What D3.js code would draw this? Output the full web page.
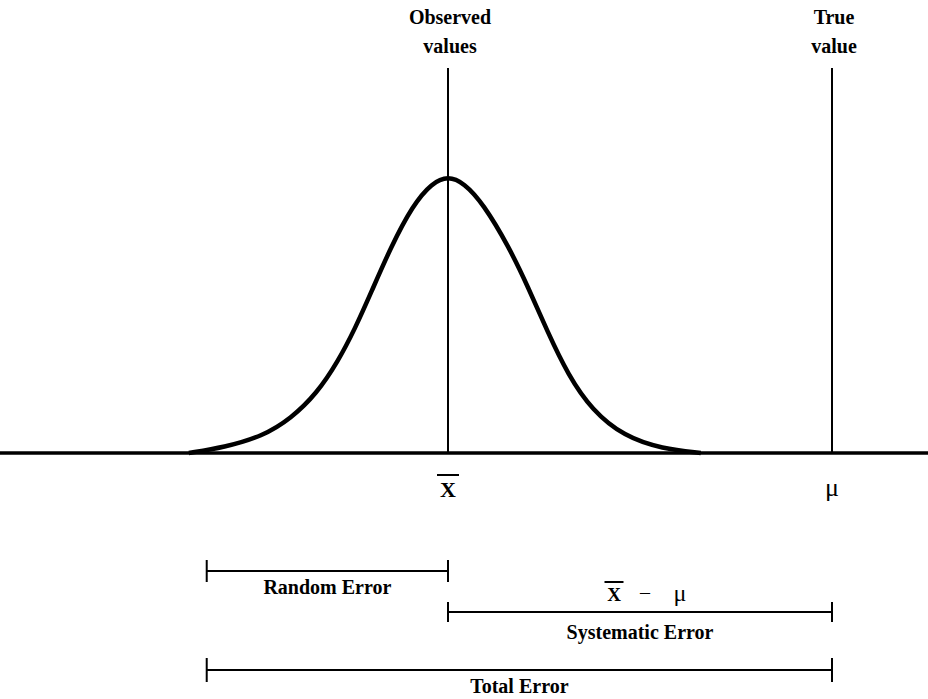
<!DOCTYPE html>
<html>
<head>
<meta charset="utf-8">
<script src="https://cdn.jsdelivr.net/npm/d3@7"></script>
<style>
  html, body { margin: 0; padding: 0; background: #fff; }
  svg { display: block; }
  text { font-family: "Liberation Serif", "DejaVu Serif", serif; fill: #000; }
</style>
</head>
<body>
<svg id="chart" width="928" height="699"></svg>
<script>
// ---- Data (x in units of standard deviations from the observed mean) ----
const curveX = [-4.05, -3.5, -2.9, -2.45, -2.05, -1.72, -1.45, -1.2, -0.9, -0.55, -0.25, 0,
                 0.25, 0.55, 0.95, 1.25, 1.55, 1.88, 2.25, 2.75, 3.35, 3.95];
const curveY = [0, 0.02, 0.06, 0.125, 0.215, 0.33, 0.45, 0.58, 0.74, 0.895, 0.975, 1,
                0.975, 0.9, 0.745, 0.6, 0.44, 0.28, 0.155, 0.06, 0.015, 0];
const observedX = 0;      // x-bar
const trueX = 6;          // mu
const totalStart = -3.77; // left end of random / total error brackets
const markerLabels = [["Observed", "values"], ["True", "value"]];
const bracketLabels = ["Random Error", "Systematic Error", "Total Error"];

// ---- Layout ----
const W = 928, H = 699;
const svg = d3.select("#chart");
const x = d3.scaleLinear().domain([-7, 7.5]).range([0, W]);
const y = d3.scaleLinear().domain([0, 1]).range([453, 176]);

// baseline
svg.append("line")
  .attr("x1", 0).attr("x2", W)
  .attr("y1", y(0)).attr("y2", y(0))
  .attr("stroke", "#000").attr("stroke-width", 3.5);

// vertical marker lines
[observedX, trueX].forEach(v => {
  svg.append("line")
    .attr("x1", x(v)).attr("x2", x(v))
    .attr("y1", 68).attr("y2", y(0))
    .attr("stroke", "#000").attr("stroke-width", 2);
});

// bell curve
const pts = curveX.map((d, i) => [d, curveY[i]]);
svg.append("path")
  .datum(pts)
  .attr("fill", "none")
  .attr("stroke", "#000")
  .attr("stroke-width", 4.5)
  .attr("stroke-linejoin", "round")
  .attr("d", d3.line().x(d => x(d[0])).y(d => y(d[1])).curve(d3.curveBasis));

// marker titles
[observedX, trueX].forEach((v, i) => {
  const cx = x(v) + 2;
  svg.append("text").attr("x", cx).attr("y", 24)
    .attr("text-anchor", "middle").attr("font-weight", "bold").attr("font-size", 20)
    .text(markerLabels[i][0]);
  svg.append("text").attr("x", cx).attr("y", 53)
    .attr("text-anchor", "middle").attr("font-weight", "bold").attr("font-size", 20)
    .text(markerLabels[i][1]);
});

// x-bar symbol helper
function xbar(cx, baseline, size) {
  svg.append("text").attr("x", cx).attr("y", baseline)
    .attr("text-anchor", "middle").attr("font-weight", "bold").attr("font-size", size)
    .text("X");
  svg.append("line")
    .attr("x1", cx - size * 0.5).attr("x2", cx + size * 0.5)
    .attr("y1", baseline - size * 1.0).attr("y2", baseline - size * 1.0)
    .attr("stroke", "#000").attr("stroke-width", 2);
}
function mu(cx, baseline, size) {
  svg.append("text").attr("x", cx).attr("y", baseline)
    .attr("text-anchor", "middle").attr("font-size", size)
    .text("\u03BC");
}

xbar(x(observedX), 497, 22);
mu(x(trueX), 496, 26);

// brackets
function bracket(x1, x2, yy, tick, label, labelY) {
  const g = svg.append("g");
  g.append("line").attr("x1", x1).attr("x2", x2).attr("y1", yy).attr("y2", yy)
    .attr("stroke", "#000").attr("stroke-width", 2);
  [x1, x2].forEach(xx => g.append("line")
    .attr("x1", xx).attr("x2", xx).attr("y1", yy - tick).attr("y2", yy + tick)
    .attr("stroke", "#000").attr("stroke-width", 2));
  g.append("text").attr("x", (x1 + x2) / 2).attr("y", labelY)
    .attr("text-anchor", "middle").attr("font-weight", "bold").attr("font-size", 20)
    .text(label);
}

bracket(x(totalStart), x(observedX), 571, 11, bracketLabels[0], 594);
bracket(x(observedX), x(trueX), 612, 10, bracketLabels[1], 639);
bracket(x(totalStart), x(trueX), 670, 12, bracketLabels[2], 693);

// x-bar minus mu label
xbar(614, 601, 19);
svg.append("text").attr("x", 645).attr("y", 599)
  .attr("text-anchor", "middle").attr("font-size", 20).text("\u2013");
mu(680, 601, 24);
</script>
</body>
</html>
